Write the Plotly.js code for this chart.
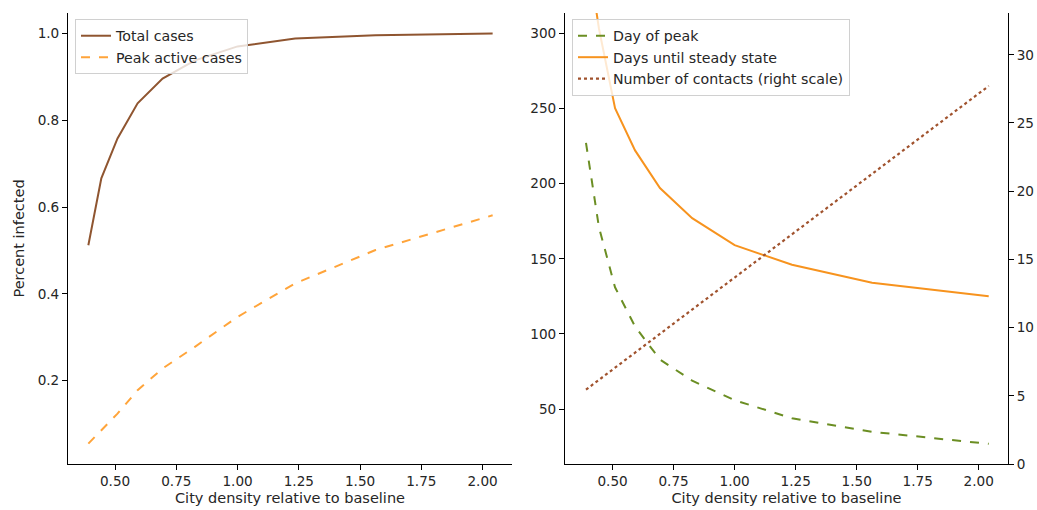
<!DOCTYPE html>
<html>
<head>
<meta charset="utf-8">
<script src="https://cdn.plot.ly/plotly-3.0.1.min.js"></script>
<style>html,body{margin:0;padding:0;background:#fff;}#chart{width:1037px;height:510px;}</style>
</head>
<body>
<div id="chart"></div>
<script>
// Data
const density = [0.391, 0.444, 0.510, 0.592, 0.694, 0.826, 1.000, 1.235, 1.563, 2.041];
const totalCases = [0.512, 0.666, 0.758, 0.839, 0.896, 0.938, 0.970, 0.988, 0.996, 1.000];
const peakActive = [0.055, 0.086, 0.124, 0.178, 0.228, 0.278, 0.347, 0.424, 0.501, 0.581];
const dayOfPeak = [227, 171, 131, 105, 83, 69, 56, 44, 35, 27];
const daysSteady = [360, 303, 250, 222, 197, 177, 159, 146, 134, 125];
const contacts = [5.45, 6.17, 7.06, 8.17, 9.54, 11.32, 13.67, 16.84, 21.26, 27.71];
const xTicks = [0.5, 0.75, 1.0, 1.25, 1.5, 1.75, 2.0];

const font = {family: 'DejaVu Sans, sans-serif', size: 14.5, color: '#262626'};
const tickFont = {family: 'DejaVu Sans, sans-serif', size: 13.6, color: '#262626'};
const legFont = {family: 'DejaVu Sans, sans-serif', size: 14.2, color: '#262626'};
const W = 1037, H = 510;
const ydom = [1 - 464 / H, 1 - 13 / H];

const traces = [
  {x: density, y: totalCases, name: 'Total cases', mode: 'lines', xaxis: 'x', yaxis: 'y',
   line: {color: '#8f5530', width: 2}, legend: 'legend'},
  {x: density, y: peakActive, name: 'Peak active cases', mode: 'lines', xaxis: 'x', yaxis: 'y',
   line: {color: '#ffa43a', width: 2, dash: 'dash'}, legend: 'legend'},
  {x: density, y: dayOfPeak, name: 'Day of peak', mode: 'lines', xaxis: 'x2', yaxis: 'y2',
   line: {color: '#6b8e23', width: 2, dash: 'dash'}, legend: 'legend2'},
  {x: density, y: daysSteady, name: 'Days until steady state', mode: 'lines', xaxis: 'x2', yaxis: 'y2',
   line: {color: '#f7931e', width: 2}, legend: 'legend2'},
  {x: density, y: contacts, name: 'Number of contacts (right scale)', mode: 'lines', xaxis: 'x2', yaxis: 'y3',
   line: {color: '#a0522d', width: 2.2, dash: 'dot'}, legend: 'legend2'}
];

const axBase = {
  showgrid: false, zeroline: false, showline: true, linecolor: '#000', linewidth: 1,
  ticks: 'outside', ticklen: 5, tickcolor: '#000', tickwidth: 1, tickfont: tickFont,
  mirror: false
};

const layout = {
  width: W, height: H,
  margin: {l: 0, r: 0, t: 0, b: 0},
  paper_bgcolor: '#fff', plot_bgcolor: '#fff',
  font: font,
  showlegend: true,
  xaxis: Object.assign({}, axBase, {
    domain: [68 / W, 512 / W], range: [0.308, 2.12], anchor: 'y',
    tickvals: xTicks, tickformat: '.2f',
    title: {text: 'City density relative to baseline', font: font, standoff: 4}
  }),
  yaxis: Object.assign({}, axBase, {
    domain: ydom, range: [0.008, 1.047], anchor: 'x',
    tickvals: [0.2, 0.4, 0.6, 0.8, 1.0], tickformat: '.1f',
    title: {text: 'Percent infected', font: font, standoff: 9}
  }),
  xaxis2: Object.assign({}, axBase, {
    domain: [565 / W, 1008 / W], range: [0.305, 2.12], anchor: 'y2',
    tickvals: xTicks, tickformat: '.2f',
    title: {text: 'City density relative to baseline', font: font, standoff: 4}
  }),
  yaxis2: Object.assign({}, axBase, {
    domain: ydom, range: [13.6, 313.3], anchor: 'x2',
    tickvals: [50, 100, 150, 200, 250, 300]
  }),
  yaxis3: Object.assign({}, axBase, {
    domain: ydom, range: [0, 33.06], anchor: 'x2', overlaying: 'y2', side: 'right',
    tickvals: [0, 5, 10, 15, 20, 25, 30]
  }),
  legend: {
    x: 75 / W, y: 1 - 19 / H, xanchor: 'left', yanchor: 'top',
    bgcolor: 'rgba(255,255,255,0.8)', bordercolor: '#d0d0d0', borderwidth: 1,
    font: legFont, tracegroupgap: 0, itemwidth: 30
  },
  legend2: {
    x: 572 / W, y: 1 - 19 / H, xanchor: 'left', yanchor: 'top',
    bgcolor: 'rgba(255,255,255,0.8)', bordercolor: '#d0d0d0', borderwidth: 1,
    font: legFont, tracegroupgap: 0, itemwidth: 30
  }
};

Plotly.newPlot('chart', traces, layout, {staticPlot: true, displayModeBar: false});
</script>
</body>
</html>
